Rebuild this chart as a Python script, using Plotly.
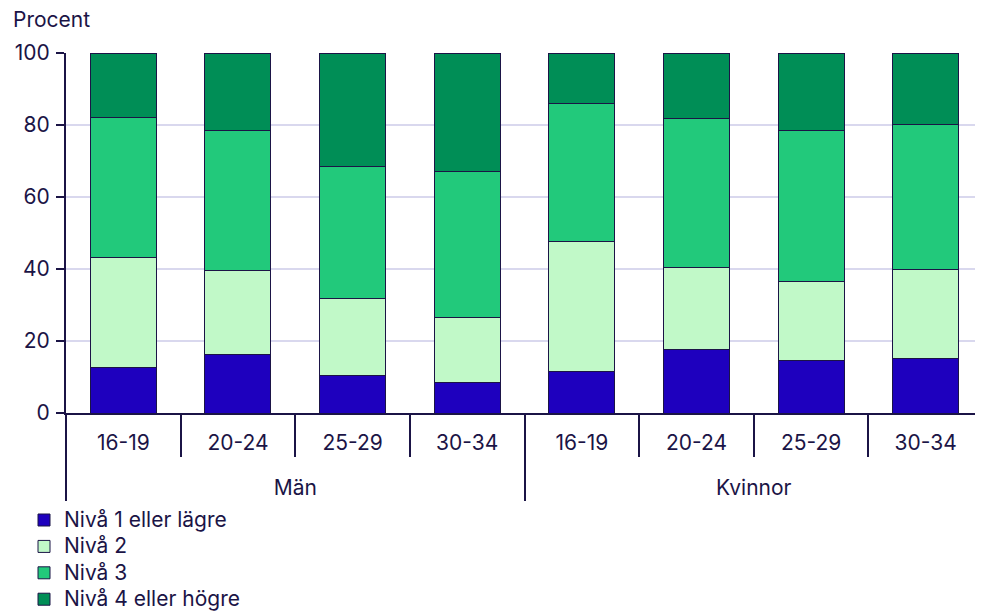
import plotly.graph_objects as go

groups = ["Män"] * 4 + ["Kvinnor"] * 4
ages = ["16-19", "20-24", "25-29", "30-34"] * 2

niva1 = [12.7, 16.2, 10.5, 8.6, 11.4, 17.6, 14.5, 15.1]
niva2 = [30.4, 23.3, 21.3, 17.9, 36.2, 22.8, 22.1, 24.7]
niva3 = [38.9, 38.9, 36.8, 40.7, 38.5, 41.4, 42.0, 40.3]
niva4 = [18.0, 21.6, 31.4, 32.8, 13.9, 18.2, 21.4, 19.9]

series_names = ["Nivå 1 eller lägre", "Nivå 2", "Nivå 3", "Nivå 4 eller högre"]
series_values = [niva1, niva2, niva3, niva4]
colors = ["#1E00BE", "#C1F9C8", "#22C97B", "#008E56"]

ink = "#1B1446"
font_family = "Inter"
fs = 21

# group labels pushed one line lower so they sit beneath the age labels
group_labels = [f"<br>{g}" for g in groups]

fig = go.Figure()
for name, vals, col in zip(series_names, series_values, colors):
    fig.add_trace(go.Bar(
        x=[group_labels, ages], y=vals,
        name=f'<span style="font-size:{fs}px">{name}</span>',
        marker=dict(color=col, line=dict(color=ink, width=1)),
    ))

fig.update_layout(
    barmode="stack",
    bargap=0.425,
    width=975, height=605,
    margin=dict(l=58, r=0, t=45, b=200, autoexpand=False),
    paper_bgcolor="white", plot_bgcolor="white",
    font=dict(family=font_family, size=fs, color=ink),
    showlegend=True,
    legend=dict(
        x=-0.0458, y=-0.2467, xanchor="left", yanchor="top",
        orientation="v", traceorder="normal",
        font=dict(size=18, color=ink),
        tracegroupgap=0, itemwidth=30,
        bgcolor="rgba(0,0,0,0)",
    ),
    xaxis=dict(
        type="multicategory",
        showline=True, linecolor=ink, linewidth=2,
        ticks="outside", tickson="boundaries", ticklen=42, tickwidth=2, tickcolor=ink,
        showdividers=True, dividercolor=ink, dividerwidth=2,
        showgrid=False,
        ticklabelstandoff=10,
        tickfont=dict(size=fs, color=ink),
    ),
    yaxis=dict(
        range=[0, 100], tickvals=[0, 20, 40, 60, 80, 100],
        showgrid=True, gridcolor="#D9D8EE", gridwidth=2,
        showline=True, linecolor=ink, linewidth=2,
        ticks="outside", ticklen=8, tickwidth=2, tickcolor=ink,
        zeroline=False,
        ticklabelstandoff=2,
        tickfont=dict(size=fs, color=ink),
    ),
    annotations=[dict(
        text="Procent", xref="paper", yref="paper", x=-0.06, y=1.0,
        xanchor="left", yanchor="bottom", yshift=19, showarrow=False,
        font=dict(size=fs, color=ink),
    )],
)

fig.write_html("out.html")
